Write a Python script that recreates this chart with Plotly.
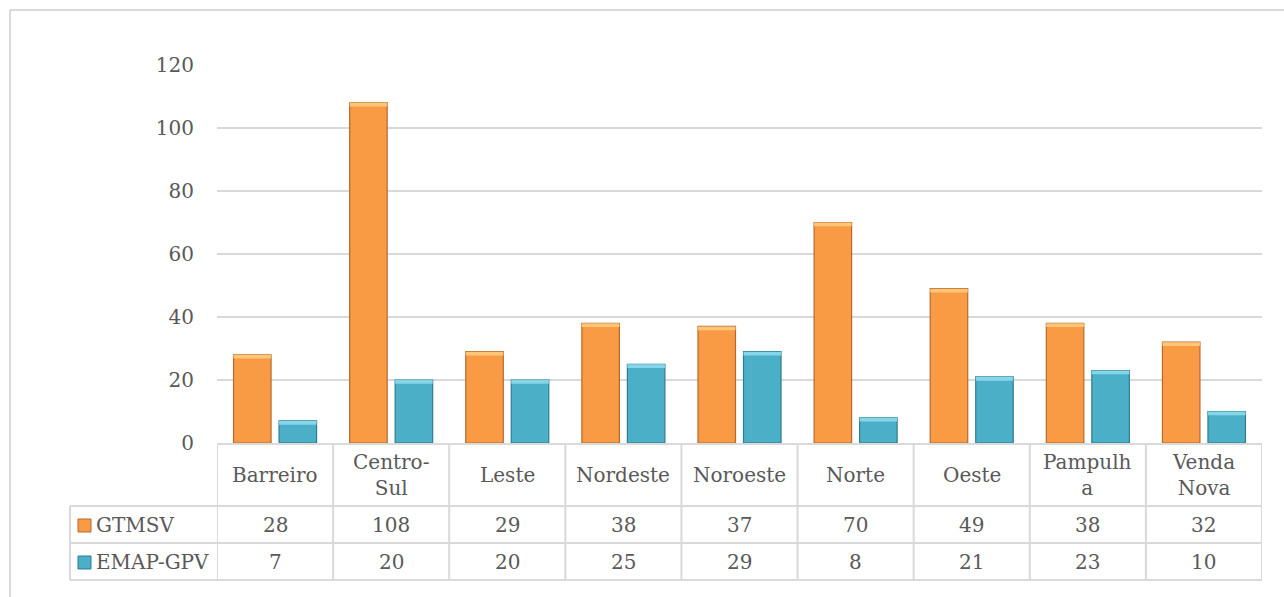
import plotly.graph_objects as go

# Regiões e contagens por série
regioes = ["Barreiro", "Centro-<br>Sul", "Leste", "Nordeste", "Noroeste",
           "Norte", "Oeste", "Pampulh<br>a", "Venda<br>Nova"]
gtmsv = [28, 108, 29, 38, 37, 70, 49, 38, 32]
emap_gpv = [7, 20, 20, 25, 29, 8, 21, 23, 10]
series_nomes = ["GTMSV", "EMAP-GPV"]
y_ticks = [0, 20, 40, 60, 80, 100, 120]

W, H = 1284, 597
L, R, T, B = 217, 22, 65, 154
PW, PH = W - L - R, H - T - B

FONT = "DejaVu Serif"
TXT = "#595959"
GRID = "#D9D9D9"
LARANJA, LARANJA_BORDA, LARANJA_TOPO = "#F99A45", "#B8692A", "#FFC678"
AZUL, AZUL_BORDA, AZUL_TOPO = "#4BAFC8", "#2D7D92", "#85D6EA"
BISEL = 1.2  # altura do realce no topo das barras (unidades do eixo y)


def px_x(p):
    return (p - L) / PW


def px_y(p):
    return (H - B - p) / PH


x_idx = list(range(len(regioes)))

fig = go.Figure()
for nome, vals, cor, borda, topo, grupo in (
        (series_nomes[0], gtmsv, LARANJA, LARANJA_BORDA, LARANJA_TOPO, "g1"),
        (series_nomes[1], emap_gpv, AZUL, AZUL_BORDA, AZUL_TOPO, "g2")):
    fig.add_trace(go.Bar(x=x_idx, y=vals, name=nome, offsetgroup=grupo,
                         marker=dict(color=cor, line=dict(color=borda, width=1.2))))
    # faixa clara no topo de cada barra (efeito de bisel)
    fig.add_trace(go.Bar(x=x_idx, y=[BISEL] * len(vals), base=[v - BISEL for v in vals],
                         offsetgroup=grupo, showlegend=False, hoverinfo="skip",
                         marker=dict(color=topo, line=dict(width=0))))

shapes = []
annotations = []

# Linhas da tabela de dados
y_head = px_y(506)
y_r1 = px_y(543)
y_r2 = px_y(580)
line_style = dict(color=GRID, width=2)
for i in range(len(regioes) + 1):
    shapes.append(dict(type="line", xref="x", yref="paper", x0=i - 0.5, x1=i - 0.5,
                       y0=0, y1=y_r2, line=line_style))
shapes.append(dict(type="line", xref="paper", yref="paper", x0=px_x(70), x1=px_x(70),
                   y0=y_head, y1=y_r2, line=line_style))
for yy in (y_head, y_r1, y_r2):
    shapes.append(dict(type="line", xref="paper", yref="paper", x0=px_x(70), x1=1,
                       y0=yy, y1=yy, line=line_style))

# Moldura externa do gráfico
shapes.append(dict(type="line", xref="paper", yref="paper", x0=px_x(10), x1=px_x(1300),
                   y0=px_y(10), y1=px_y(10), line=line_style))
shapes.append(dict(type="line", xref="paper", yref="paper", x0=px_x(10), x1=px_x(10),
                   y0=px_y(10), y1=px_y(620), line=line_style))

# Cabeçalhos das categorias e valores
fnt = dict(family=FONT, size=20, color=TXT)
for i, nome in enumerate(regioes):
    annotations.append(dict(x=i, y=px_y(475), xref="x", yref="paper", text=nome,
                            showarrow=False, font=fnt, align="center", yanchor="middle"))
    annotations.append(dict(x=i, y=px_y(525), xref="x", yref="paper", text=str(gtmsv[i]),
                            showarrow=False, font=fnt, yanchor="middle"))
    annotations.append(dict(x=i, y=px_y(562), xref="x", yref="paper", text=str(emap_gpv[i]),
                            showarrow=False, font=fnt, yanchor="middle"))

# Legenda dentro da tabela
for nome, cor, borda, yc in ((series_nomes[0], LARANJA, LARANJA_BORDA, 525),
                             (series_nomes[1], AZUL, AZUL_BORDA, 562)):
    shapes.append(dict(type="rect", xref="paper", yref="paper",
                       x0=px_x(78), x1=px_x(91), y0=px_y(yc - 6), y1=px_y(yc + 7),
                       fillcolor=cor, line=dict(color=borda, width=1)))
    annotations.append(dict(x=px_x(94), y=px_y(yc), xref="paper", yref="paper", text=nome,
                            showarrow=False, font=fnt, xanchor="left", yanchor="middle"))

fig.update_layout(
    width=W, height=H,
    margin=dict(l=L, r=R, t=T, b=B, pad=0),
    paper_bgcolor="white", plot_bgcolor="white",
    barmode="group", bargap=0.216, bargroupgap=0.176,
    showlegend=False,
    font=dict(family=FONT, size=20, color=TXT),
    xaxis=dict(range=[-0.5, len(regioes) - 0.5], showticklabels=False, showgrid=False,
               zeroline=False, showline=True, linecolor=GRID, linewidth=2, ticks=""),
    yaxis=dict(range=[0, 120], tickvals=y_ticks, showgrid=True, gridcolor=GRID, gridwidth=2,
               zeroline=False, showline=False, ticks="outside", ticklen=18,
               tickcolor="rgba(0,0,0,0)", tickfont=dict(family=FONT, size=20, color=TXT)),
    shapes=shapes,
    annotations=annotations,
)

fig.write_html("out.html")
